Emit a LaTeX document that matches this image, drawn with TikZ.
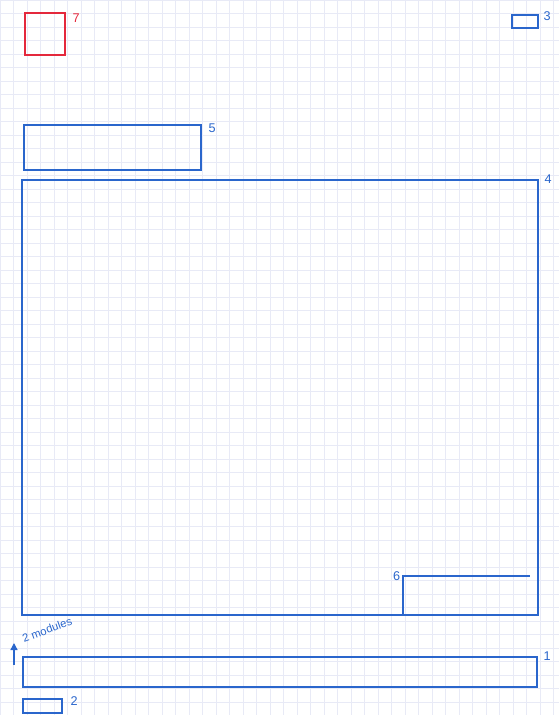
\documentclass[tikz,border=0pt]{standalone}
\usepackage{fontspec}
\setsansfont{Liberation Sans}
\definecolor{SketchBlue}{RGB}{42,102,204}
\definecolor{SketchRed}{RGB}{228,40,60}
\definecolor{GridLav}{RGB}{232,234,246}
\usetikzlibrary{arrows.meta,positioning,fit,calc}
\tikzset{
  box/.style={draw=SketchBlue,line width=1.2pt,inner sep=0pt},
  redbox/.style={draw=SketchRed,line width=1.2pt,inner sep=0pt},
  num/.style={text=SketchBlue,font=\sffamily\small,inner sep=1pt,anchor=north west}
}
\begin{document}
\begin{tikzpicture}[x=0.025cm,y=-0.025cm]
\useasboundingbox (0,0) rectangle (559,715);
% squared paper
\draw[GridLav,line width=0.6pt,step=0.3375cm] (0,0) grid (559,715);
% module 7 (red)
\node[redbox,fit={(25,13) (65,55)}] (m7) {};
\node[num,text=SketchRed] (l7) at ($(m7.north east)+(5,0)$) {7};
% module 3
\node[box,fit={(512,15) (538,28)}] (m3) {};
\node[num] (l3) at ($(m3.north east)+(3,-4)$) {3};
% module 5
\node[box,fit={(24,125) (201,170)}] (m5) {};
\node[num] (l5) at ($(m5.north east)+(5,-2)$) {5};
% module 4: main area
\node[box,fit={(22,180) (538,615)}] (m4) {};
\node[num] (l4) at ($(m4.north east)+(4,-6)$) {4};
% module 6: corner inside 4
\node[inner sep=0pt,fit={(403,576) (530,615)}] (m6) {};
\draw[SketchBlue,line width=1.2pt] (m6.south west) -- (m6.north west) -- (m6.north east);
\node[num,anchor=north east] (l6) at ($(m6.north west)+(-1,-6)$) {6};
% module 1
\node[box,fit={(23,657) (537,687)}] (m1) {};
\node[num] (l1) at ($(m1.north east)+(4,-6)$) {1};
% module 2
\node[box,fit={(23,699) (62,713)}] (m2) {};
\node[num] (l2) at ($(m2.north east)+(6,-3)$) {2};
% note
\coordinate (a0) at (14,665);
\coordinate (a1) at (14,643);
\draw[SketchBlue,line width=1pt,-{Triangle[length=5pt,width=5pt]}] (a0) -- (a1);
\node[text=SketchBlue,font=\sffamily\footnotesize,rotate=20,anchor=south west,inner sep=0pt] (nt) at (24,643) {2 modules};
\end{tikzpicture}
\end{document}
